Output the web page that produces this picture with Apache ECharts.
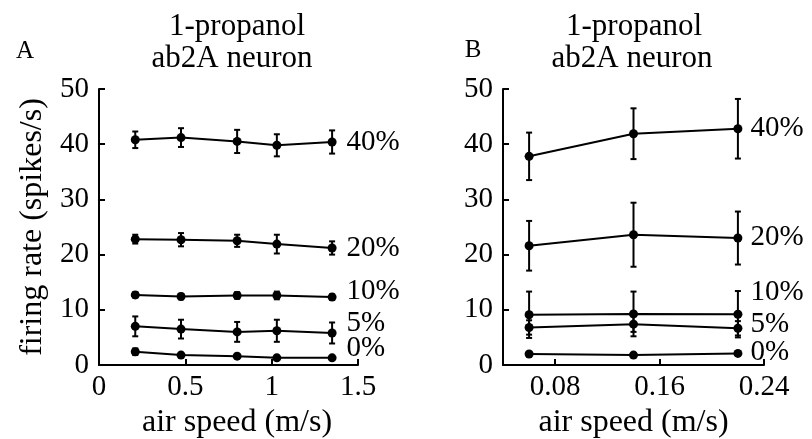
<!DOCTYPE html>
<html>
<head>
<meta charset="utf-8">
<script src="https://cdn.jsdelivr.net/npm/echarts@6/dist/echarts.min.js"></script>
<style>
  html, body { margin: 0; padding: 0; background: #fff; }
  #chart { width: 812px; height: 439px; }
</style>
</head>
<body>
<div id="chart"></div>
<script>
// Firing rate of the ab2A neuron to 1-propanol at several concentrations,
// plotted against air speed (panel A: high speeds, panel B: low speeds).
const concentrations = ['40%', '20%', '10%', '5%', '0%'];

// Panel A
const speedsA = [0.21, 0.475, 0.80, 1.03, 1.35];
const rateA40 = [40.8, 41.2, 40.5, 39.8, 40.4];
const errA40  = [1.5, 1.7, 2.1, 2.0, 2.1];
const rateA20 = [22.8, 22.7, 22.5, 21.9, 21.2];
const errA20  = [0.8, 1.2, 1.1, 1.7, 1.2];
const rateA10 = [12.7, 12.4, 12.6, 12.6, 12.3];
const errA10  = [0.5, 0.5, 0.6, 0.7, 0.5];
const rateA5  = [7.0, 6.5, 6.0, 6.2, 5.8];
const errA5   = [1.8, 1.7, 1.8, 2.0, 1.9];
const rateA0  = [2.4, 1.8, 1.6, 1.3, 1.3];
const errA0   = [0.6, 0.3, 0.3, 0.4, 0.2];

// Panel B
const speedsB = [0.06, 0.14, 0.22];
const rateB40 = [37.8, 41.9, 42.8];
const errB40  = [4.3, 4.6, 5.4];
const rateB20 = [21.6, 23.6, 23.0];
const errB20  = [4.5, 5.8, 4.8];
const rateB10 = [9.1, 9.25, 9.2];
const errB10  = [4.2, 4.05, 4.2];
const rateB5  = [6.8, 7.4, 6.65];
const errB5   = [1.3, 1.4, 1.3];
const rateB0  = [2.0, 1.8, 2.1];
const errB0   = [0.3, 0.3, 0.3];

// Axis ticks
const yTicks = [0, 10, 20, 30, 40, 50];
const xTicksA = [0, 0.5, 1, 1.5];
const xTicksB = [0.08, 0.16, 0.24];

const panelA = { speeds: speedsA, rates: [rateA40, rateA20, rateA10, rateA5, rateA0], errs: [errA40, errA20, errA10, errA5, errA0] };
const panelB = { speeds: speedsB, rates: [rateB40, rateB20, rateB10, rateB5, rateB0], errs: [errB40, errB20, errB10, errB5, errB0] };

// vertical nudges for the end-of-line concentration labels
const labelNudgeA = { '40%': 0, '20%': 0, '10%': -6, '5%': -10, '0%': -9 };
const labelNudgeB = { '40%': 0, '20%': -1, '10%': -22, '5%': -4, '0%': -1 };

const FONT = 'Liberation Serif';
const INK = '#000';

function axisCommon() {
  return {
    axisLine: { show: true, onZero: false, lineStyle: { color: INK, width: 2 } },
    axisTick: { show: true, inside: true, length: 6, lineStyle: { color: INK, width: 2 } },
    splitLine: { show: false },
    axisLabel: { color: INK, fontFamily: FONT, fontSize: 29 }
  };
}

const xAxes = [
  Object.assign(axisCommon(), {
    gridIndex: 0, type: 'value', min: xTicksA[0], max: xTicksA[xTicksA.length - 1], interval: 0.5,
    name: 'air speed (m/s)', nameLocation: 'middle', nameGap: 40,
    nameTextStyle: { color: INK, fontFamily: FONT, fontSize: 32, padding: [0, 0, 0, 17] }
  }),
  Object.assign(axisCommon(), {
    gridIndex: 1, type: 'value', min: 0.04, max: 0.24,
    name: 'air speed (m/s)', nameLocation: 'middle', nameGap: 40,
    nameTextStyle: { color: INK, fontFamily: FONT, fontSize: 32 }
  })
];
xAxes[0].axisLabel.margin = 8;
xAxes[1].axisLabel = Object.assign(xAxes[1].axisLabel, { margin: 8, customValues: xTicksB, formatter: v => v.toFixed(2) });
xAxes[1].axisTick = Object.assign(xAxes[1].axisTick, { customValues: xTicksB });

const yAxes = [0, 1].map(g => {
  const ax = Object.assign(axisCommon(), {
    gridIndex: g, type: 'value', min: yTicks[0], max: yTicks[yTicks.length - 1], interval: 10
  });
  ax.axisLabel.margin = 10;
  if (g === 0) {
    ax.name = 'firing rate (spikes/s)';
    ax.nameLocation = 'middle';
    ax.nameGap = 50;
    ax.nameTextStyle = { color: INK, fontFamily: FONT, fontSize: 32 };
  }
  return ax;
});

function errorBars(panel, idx, k) {
  const data = panel.speeds.map((x, i) => [x, panel.rates[k][i] - panel.errs[k][i], panel.rates[k][i] + panel.errs[k][i]]);
  return {
    type: 'custom', xAxisIndex: idx, yAxisIndex: idx, z: 3, silent: true,
    data: data,
    encode: { x: 0, y: [1, 2] },
    renderItem: function (params, api) {
      const lo = api.coord([api.value(0), api.value(1)]);
      const hi = api.coord([api.value(0), api.value(2)]);
      const cap = 3;
      const style = { stroke: INK, lineWidth: 2 };
      return {
        type: 'group',
        children: [
          { type: 'line', shape: { x1: lo[0], y1: lo[1], x2: hi[0], y2: hi[1] }, style: style },
          { type: 'line', shape: { x1: lo[0] - cap, y1: lo[1], x2: lo[0] + cap, y2: lo[1] }, style: style },
          { type: 'line', shape: { x1: hi[0] - cap, y1: hi[1], x2: hi[0] + cap, y2: hi[1] }, style: style }
        ]
      };
    }
  };
}

function lineSeries(panel, idx, k, nudge, dist) {
  const name = concentrations[k];
  const last = panel.speeds.length - 1;
  return {
    type: 'line', name: name, xAxisIndex: idx, yAxisIndex: idx, z: 4,
    symbol: 'circle', symbolSize: 9, silent: true,
    lineStyle: { color: INK, width: 2 },
    itemStyle: { color: INK },
    label: {
      position: 'right', distance: dist, offset: [0, nudge[name]],
      color: INK, fontFamily: FONT, fontSize: 29, formatter: name
    },
    data: panel.speeds.map((x, i) => ({ value: [x, panel.rates[k][i]], label: { show: i === last } }))
  };
}

const series = [];
concentrations.forEach((c, k) => {
  series.push(errorBars(panelA, 0, k));
  series.push(lineSeries(panelA, 0, k, labelNudgeA, 10));
  series.push(errorBars(panelB, 1, k));
  series.push(lineSeries(panelB, 1, k, labelNudgeB, 8));
});

function text(str, x, y, size) {
  return {
    type: 'text', x: x, y: y,
    style: { text: str, fill: INK, fontFamily: FONT, fontSize: size, align: 'center', verticalAlign: 'middle' }
  };
}

const option = {
  animation: false,
  backgroundColor: '#fff',
  grid: [
    { left: 99, top: 89, width: 259, height: 276, outerBoundsMode: 'none' },
    { left: 503, top: 89, width: 261, height: 276, outerBoundsMode: 'none' }
  ],
  xAxis: xAxes,
  yAxis: yAxes,
  series: series,
  graphic: [
    text('A', 25, 51, 25),
    text('1-propanol', 237, 27, 31),
    text('ab2A neuron', 232, 59, 31),
    text('B', 473, 50, 25),
    text('1-propanol', 634, 27, 31),
    text('ab2A neuron', 632, 59, 31)
  ]
};

const chart = echarts.init(document.getElementById('chart'), null, { renderer: 'canvas' });
chart.setOption(option);
</script>
</body>
</html>
